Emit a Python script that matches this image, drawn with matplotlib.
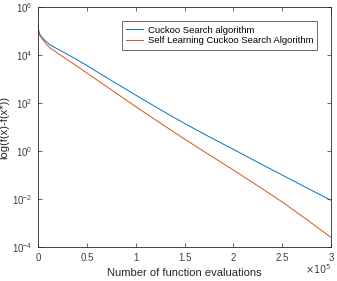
import matplotlib
matplotlib.use("Agg")
import matplotlib.pyplot as plt
import matplotlib.ticker as mticker
import numpy as np

plt.rcParams['font.family'] = ['Liberation Sans', 'DejaVu Sans']

# function evaluations (x 1e5) and log10 of f(x)-f(x*)
evals = [0, 0.005, 0.01, 0.02, 0.04, 0.08, 0.12, 0.2, 0.3, 0.4, 0.5, 0.75, 1.0,
         1.25, 1.5, 1.75, 2.0, 2.25, 2.5, 2.75, 3.0]
cs_log = [5.35, 5.05, 4.95, 4.85, 4.74, 4.57, 4.43, 4.25, 4.03, 3.8, 3.56, 2.94, 2.33,
          1.73, 1.15, 0.6, 0.07, -0.47, -1.0, -1.53, -2.05]
slcs_log = [5.35, 5.0, 4.9, 4.8, 4.68, 4.47, 4.3, 4.08, 3.8, 3.53, 3.25, 2.55, 1.85,
            1.17, 0.5, -0.15, -0.79, -1.45, -2.12, -2.85, -3.6]
labels = ["Cuckoo Search algorithm", "Self Learning Cuckoo Search Algorithm"]

x = np.array(evals) * 1e5
cs = 10 ** np.array(cs_log)
slcs = 10 ** np.array(slcs_log)

fig = plt.figure(figsize=(3.37, 2.81), dpi=100)
ax = fig.add_axes([0.113, 0.121, 0.869, 0.854])

ax.plot(x, cs, color="#0072BD", lw=0.7, label=labels[0])
ax.plot(x, slcs, color="#D95319", lw=0.7, label=labels[1])

ax.set_yscale("log")
ax.set_xlim(0, 3e5)
ax.set_ylim(1e-4, 1e6)
ax.set_yticks([1e-4, 1e-2, 1e0, 1e2, 1e4, 1e6])
ax.yaxis.set_minor_locator(mticker.NullLocator())
ax.set_xticks(np.arange(0, 3.01e5, 0.5e5))
ax.set_xticklabels(["0", "0.5", "1", "1.5", "2", "2.5", "3"])
ax.text(1.0, -0.065, r"$\times10^5$", transform=ax.transAxes, ha="right", va="top",
        fontsize=7, color="#404040")

for s in ax.spines.values():
    s.set_color("#262626")
    s.set_linewidth(0.6)
ax.tick_params(which="both", direction="in", top=True, right=True, length=3,
               width=0.5, labelsize=7, colors="#262626", labelcolor="#404040", pad=4)

ax.set_xlabel("Number of function evaluations", fontsize=8, color="#262626", labelpad=4)
ax.set_ylabel("log(f(x)-f(x*))", fontsize=8, color="#262626", labelpad=2)

leg = ax.legend(loc="upper right", fontsize=6.8, frameon=True, fancybox=False,
                handlelength=1.8, borderpad=0.45, labelspacing=0.2, handletextpad=0.5,
                bbox_to_anchor=(0.97, 0.96))
leg.get_frame().set_edgecolor("#262626")
leg.get_frame().set_linewidth(0.6)

fig.savefig("out.png", dpi=100)
